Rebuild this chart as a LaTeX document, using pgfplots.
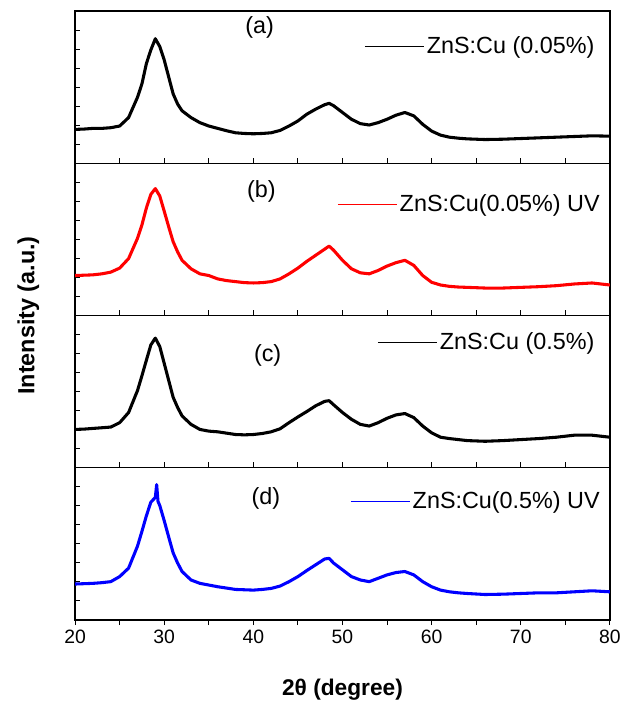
\documentclass[border=0pt]{standalone}
\usepackage{fontspec}
\setmainfont{Liberation Sans}
\usepackage{pgfplots}
\pgfplotsset{compat=1.18}
\usepgfplotslibrary{groupplots}

\pgfplotstableread{
x y
20 100
21 101
22 103
23 103
24 105
25 110
26 135
27 195
27.5 235
28 295
28.5 335
29 368
29.5 345
30 305
30.5 255
31 205
31.5 175
32 155
33 135
34 120
35 110
36 103
37 96
38 90
39 88
40 87
41 88
42 90
43 97
44 110
45 125
46 145
47 160
48 173
48.5 177
49 170
50 150
51 130
52 117
53 113
54 120
55 130
56 142
57 150
58 140
59 115
60 95
61 83
62 77
63 74
64 72
66 70
68 71
70 73
72 75
74 77
76 79
78 81
80 80
}\dataA

\pgfplotstableread{
x y
20 118
21 119
22 120
23 123
24 128
25 140
26 168
27 228
27.5 268
28 318
28.5 358
29 375
29.5 353
30 308
30.5 262
31 218
31.5 188
32 163
33 138
34 123
35 118
36 108
37 103
38 100
39 97
40 96
41 97
42 100
43 108
44 123
45 140
46 160
47 178
48 196
48.5 205
49 193
50 163
51 138
52 126
53 123
54 133
55 146
56 156
57 163
58 148
59 118
60 98
61 90
62 86
63 84
64 83
66 81
68 81
70 83
72 85
74 88
76 93
78 96
80 90
}\dataB

\pgfplotstableread{
x y
20 113
21 114
22 116
23 118
24 120
25 133
26 163
27 228
27.5 272
28 318
28.5 363
29 383
29.5 358
30 308
30.5 258
31 208
31.5 178
32 153
33 128
34 113
35 108
36 106
37 102
38 98
39 97
40 98
41 101
42 106
43 115
44 133
45 150
46 166
47 183
48 196
48.5 198
49 186
50 163
51 143
52 128
53 123
54 133
55 146
56 156
57 160
58 148
59 123
60 103
61 90
62 86
63 83
64 80
66 78
68 80
70 83
72 86
74 90
76 96
78 96
80 90
}\dataC

\pgfplotstableread{
x y
20 106
21 107
22 108
23 110
24 113
25 128
26 153
27 218
27.5 262
28 308
28.5 348
29 362
29.15 400
29.3 350
29.5 338
30 293
30.5 245
31 198
31.5 168
32 143
33 118
34 108
35 103
36 98
37 94
38 90
39 89
40 88
41 90
42 93
43 100
44 113
45 128
46 146
47 163
48 180
48.5 182
49 168
50 148
51 128
52 118
53 113
54 123
55 133
56 140
57 143
58 133
59 113
60 98
61 88
62 83
63 80
64 78
66 75
68 76
70 78
72 80
74 80
76 83
78 86
80 83
}\dataD

\begin{document}
\begin{tikzpicture}
\begin{groupplot}[
  group style={group size=1 by 4, vertical sep=0pt, group name=G,
    xticklabels at=edge bottom},
  width=400.5pt, height=114pt, scale only axis,
  xmin=20, xmax=80, ymin=0, ymax=450,
  xtick={20,30,...,80}, minor xtick={25,35,...,75},
  ytick={56.25,112.5,...,400}, yticklabels={},
  xtick pos=left, ytick pos=left,
  tick align=inside,
  major tick length=4pt, minor tick length=4pt,
  axis line style={line width=1pt},
  every tick/.style={black, line width=0.8pt},
  tick label style={font=\fontsize{14.5}{17}\selectfont},
  /pgf/number format/assume math mode=true,
  legend style={draw=none, fill=none, anchor=east,
    font=\fontsize{17.5}{20}\selectfont,
    /tikz/every even column/.append style={column sep=0pt}},
  legend image code/.code={\draw[#1, line width=0.8pt] (0pt,0pt) -- (44pt,0pt);},
  every axis plot/.append style={line width=2.3pt, line join=round},
]
\nextgroupplot[legend style={at={(0.984,0.767)}}]
\addplot[black, no markers] table[x=x,y=y]{\dataA};
\addlegendentry{ZnS:Cu (0.05\%)}
\node[font=\fontsize{17.5}{20}\selectfont] at (axis cs:40.7,400) {(a)};

\nextgroupplot[legend style={at={(0.994,0.729)}}]
\addplot[red, no markers] table[x=x,y=y]{\dataB};
\addlegendentry{ZnS:Cu(0.05\%) UV}
\node[font=\fontsize{17.5}{20}\selectfont] at (axis cs:40.9,368) {(b)};

\nextgroupplot[legend style={at={(0.984,0.823)}}]
\addplot[black, no markers] table[x=x,y=y]{\dataC};
\addlegendentry{ZnS:Cu (0.5\%)}
\node[font=\fontsize{17.5}{20}\selectfont] at (axis cs:41.6,331) {(c)};

\nextgroupplot[legend style={at={(0.994,0.78)}}, tick align=outside,
  every major y tick/.append style={xshift=4pt}]
\addplot[blue, no markers] table[x=x,y=y]{\dataD};
\addlegendentry{ZnS:Cu(0.5\%) UV}
\node[font=\fontsize{17.5}{20}\selectfont] at (axis cs:41.4,358) {(d)};
\end{groupplot}
\node[rotate=90, font=\bfseries\fontsize{17.5}{20}\selectfont] at ([xshift=-35pt]G c1r2.south west) {Intensity (a.u.)};
\node[font=\bfseries\fontsize{17}{20}\selectfont] at ([yshift=-52pt]G c1r4.south) {2θ (degree)};
\pgfresetboundingbox
\path[use as bounding box] ([xshift=-56.25pt, yshift=8.25pt]G c1r1.north west) rectangle ([xshift=7.5pt, yshift=-63.75pt]G c1r4.south east);
\end{tikzpicture}
\end{document}
